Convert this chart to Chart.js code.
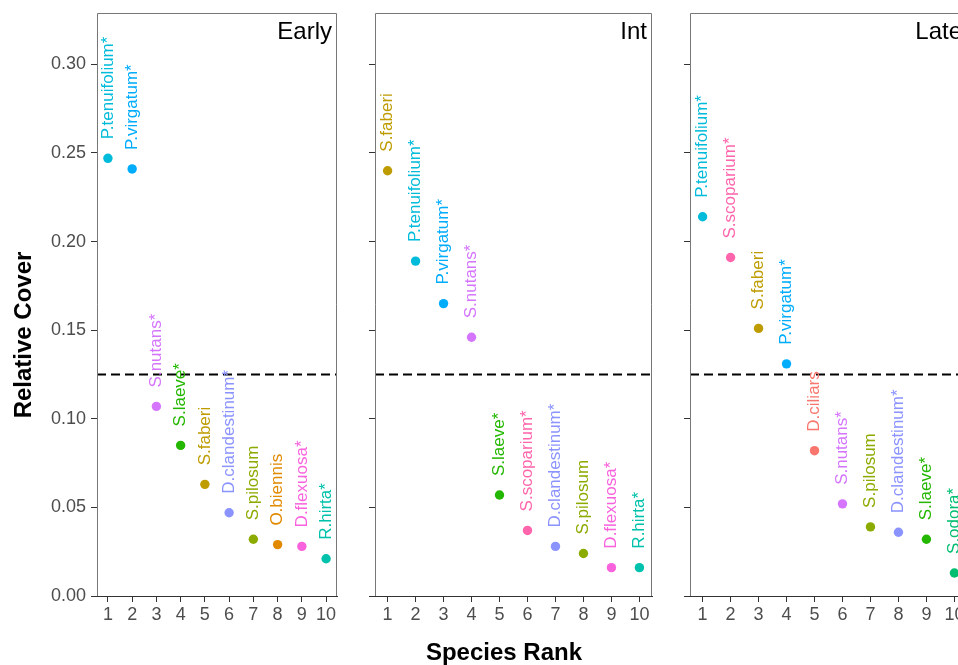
<!DOCTYPE html>
<html>
<head>
<meta charset="utf-8">
<script src="https://cdn.jsdelivr.net/npm/chart.js@4/dist/chart.umd.min.js"></script>
<style>
body { margin: 0; background: #fff; overflow: hidden; }
#wrap { position: relative; width: 958px; height: 665px; overflow: hidden; font-family: "Liberation Sans", Arial, sans-serif; }
#wrap canvas { position: absolute; top: 0; }
.title { position: absolute; width: 300px; height: 28px; line-height: 28px; text-align: center; font-weight: bold; font-size: 24px; color: #000; }
</style>
</head>
<body>
<div id="wrap">
  <canvas id="early" width="355" height="665" style="left:0"></canvas>
  <canvas id="int" width="315" height="665" style="left:355px"></canvas>
  <canvas id="late" width="315" height="665" style="left:670px"></canvas>
  <div class="title" style="left:-127px;top:321px;transform:rotate(-90deg)">Relative Cover</div>
  <div class="title" style="left:354px;top:638px">Species Rank</div>
</div>
<script>
var FONT = '"Liberation Sans", Arial, sans-serif';

// data
var ranks = [1, 2, 3, 4, 5, 6, 7, 8, 9, 10];
var yTicks = [0, 0.05, 0.10, 0.15, 0.20, 0.25, 0.30];
var yTickLabels = ['0.00', '0.05', '0.10', '0.15', '0.20', '0.25', '0.30'];
var cutoff = 0.125;

var earlySpecies = ['P.tenuifolium*', 'P.virgatum*', 'S.nutans*', 'S.laeve*', 'S.faberi',
    'D.clandestinum*', 'S.pilosum', 'O.biennis', 'D.flexuosa*', 'R.hirta*'];
var earlyCover = [0.247, 0.241, 0.107, 0.085, 0.063, 0.047, 0.032, 0.029, 0.028, 0.021];

var intSpecies = ['S.faberi', 'P.tenuifolium*', 'P.virgatum*', 'S.nutans*', 'S.laeve*',
    'S.scoparium*', 'D.clandestinum*', 'S.pilosum', 'D.flexuosa*', 'R.hirta*'];
var intCover = [0.240, 0.189, 0.165, 0.146, 0.057, 0.037, 0.028, 0.024, 0.016, 0.016];

var lateSpecies = ['P.tenuifolium*', 'S.scoparium*', 'S.faberi', 'P.virgatum*', 'D.ciliars',
    'S.nutans*', 'S.pilosum', 'D.clandestinum*', 'S.laeve*', 'S.odora*'];
var lateCover = [0.214, 0.191, 0.151, 0.131, 0.082, 0.052, 0.039, 0.036, 0.032, 0.013];

// one hue per species
var speciesColors = {
    'D.ciliars': '#F8766D',
    'O.biennis': '#E18A00',
    'S.faberi': '#BE9C00',
    'S.pilosum': '#8CAB00',
    'S.laeve*': '#24B700',
    'S.odora*': '#00BE70',
    'R.hirta*': '#00C1AB',
    'P.tenuifolium*': '#00BBDA',
    'P.virgatum*': '#00ACFC',
    'D.clandestinum*': '#8B93FF',
    'S.nutans*': '#D575FE',
    'D.flexuosa*': '#F962DD',
    'S.scoparium*': '#FF65AC'
};

// dashed cutoff, panel frame, point labels and facet title
var panelPlugin = {
    id: 'panel',
    beforeDatasetsDraw: function (chart) {
        var ctx = chart.ctx, a = chart.chartArea;
        var yc = chart.scales.y.getPixelForValue(cutoff);
        ctx.save();
        ctx.strokeStyle = '#000';
        ctx.lineWidth = 2;
        ctx.setLineDash([9, 5]);
        ctx.beginPath();
        ctx.moveTo(a.left, yc);
        ctx.lineTo(a.right, yc);
        ctx.stroke();
        ctx.restore();
    },
    afterDatasetsDraw: function (chart, args, opts) {
        var ctx = chart.ctx, a = chart.chartArea;
        ctx.save();
        ctx.strokeStyle = '#777';
        ctx.lineWidth = 1;
        ctx.beginPath();
        ctx.moveTo(Math.round(a.left) + 0.5, Math.round(a.bottom));
        ctx.lineTo(Math.round(a.left) + 0.5, Math.round(a.top) + 0.5);
        ctx.lineTo(Math.round(a.right) - 0.5, Math.round(a.top) + 0.5);
        ctx.lineTo(Math.round(a.right) - 0.5, Math.round(a.bottom));
        ctx.stroke();

        var meta = chart.getDatasetMeta(0);
        ctx.font = '17px ' + FONT;
        ctx.textAlign = 'left';
        ctx.textBaseline = 'middle';
        meta.data.forEach(function (pt, i) {
            ctx.save();
            ctx.translate(pt.x, pt.y - 19);
            ctx.rotate(-Math.PI / 2);
            ctx.fillStyle = opts.colors[i];
            ctx.fillText(opts.names[i], 0, 0);
            ctx.restore();
        });

        ctx.font = '24px ' + FONT;
        ctx.textAlign = 'right';
        ctx.textBaseline = 'alphabetic';
        ctx.fillStyle = '#000';
        ctx.fillText(opts.title, a.right - 5, a.top + 26);
        ctx.restore();
    }
};

function makePanel(id, species, cover, title, showLabels, yWidth) {
    var colors = species.map(function (s) { return speciesColors[s]; });
    var points = ranks.map(function (r, i) { return { x: r, y: cover[i] }; });

    return new Chart(document.getElementById(id), {
        type: 'scatter',
        data: {
            datasets: [{
                data: points,
                backgroundColor: colors,
                pointBackgroundColor: colors,
                pointRadius: 4.7,
                pointBorderWidth: 0,
                pointHoverRadius: 4.7
            }]
        },
        options: {
            responsive: false,
            animation: false,
            devicePixelRatio: 1,
            layout: { padding: { left: 0, right: 18, top: 13, bottom: 0 } },
            plugins: {
                legend: { display: false },
                tooltip: { enabled: false },
                panel: { title: title, names: species, colors: colors }
            },
            scales: {
                x: {
                    type: 'linear',
                    min: 0.55,
                    max: 10.45,
                    afterBuildTicks: function (s) { s.ticks = ranks.map(function (v) { return { value: v }; }); },
                    afterFit: function (s) { s.height = 69; s.paddingLeft = 0; s.paddingRight = 0; },
                    grid: { drawOnChartArea: false, drawTicks: true, tickLength: 6, color: '#333' },
                    border: { display: true, color: '#333', width: 1 },
                    ticks: {
                        font: { size: 18, family: FONT },
                        color: '#4D4D4D',
                        padding: 2,
                        maxRotation: 0,
                        autoSkip: false,
                        callback: function (v, i) { return String(ranks[i]); }
                    }
                },
                y: {
                    type: 'linear',
                    min: 0,
                    max: 0.329,
                    afterBuildTicks: function (s) { s.ticks = yTicks.map(function (v) { return { value: v }; }); },
                    afterFit: function (s) { s.width = yWidth; s.paddingTop = 0; s.paddingBottom = 0; },
                    grid: { drawOnChartArea: false, drawTicks: true, tickLength: 6, color: '#333' },
                    border: { display: false },
                    ticks: {
                        display: showLabels,
                        font: { size: 18, family: FONT },
                        color: '#4D4D4D',
                        padding: 5,
                        autoSkip: false,
                        callback: function (v, i) { return yTickLabels[i]; }
                    }
                }
            }
        },
        plugins: [panelPlugin]
    });
}

makePanel('early', earlySpecies, earlyCover, 'Early', true, 97);
makePanel('int', intSpecies, intCover, 'Int', false, 20);
makePanel('late', lateSpecies, lateCover, 'Late', false, 20);
</script>
</body>
</html>
